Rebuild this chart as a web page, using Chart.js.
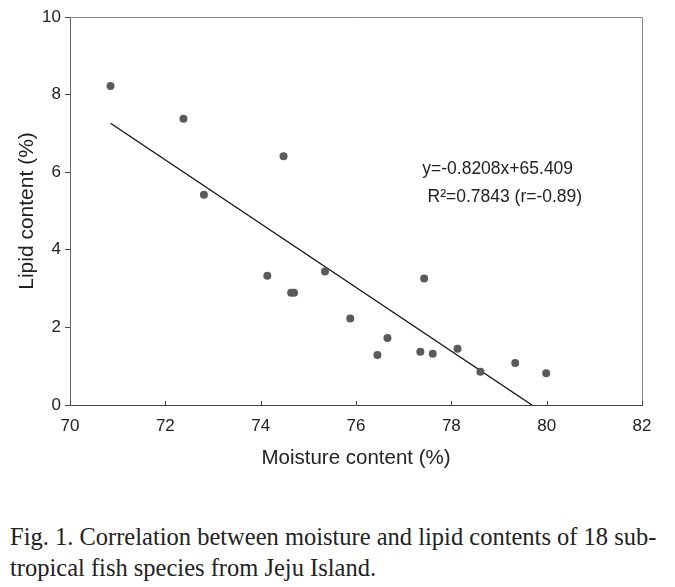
<!DOCTYPE html>
<html>
<head>
<meta charset="utf-8">
<script src="https://cdn.jsdelivr.net/npm/chart.js@4/dist/chart.umd.min.js"></script>
<style>
  body { margin: 0; background: #fff; }
  #wrap { position: relative; width: 675px; height: 587px; }
  #caption {
    position: absolute; left: 10px; top: 521px; width: 665px;
    font-family: "Liberation Serif", "Times New Roman", serif;
    font-size: 24.5px; line-height: 31px; color: #222; white-space: nowrap;
  }
</style>
</head>
<body>
<div id="wrap">
  <canvas id="fishChart" width="675" height="487"></canvas>
  <div id="caption">Fig. 1. Correlation between moisture and lipid contents of 18 sub-<br>tropical fish species from Jeju Island.</div>
</div>
<script>
// moisture (%) and lipid (%), one entry per species
const moisture = [70.85, 72.38, 72.81, 74.48, 74.14, 74.64, 74.70, 75.35, 77.43,
                  75.88, 76.66, 76.45, 77.35, 77.61, 78.13, 78.61, 79.34, 79.99]
const lipid = [8.22, 7.38, 5.42, 6.41, 3.33, 2.89, 2.89, 3.44, 3.26,
               2.23, 1.73, 1.29, 1.37, 1.32, 1.45, 0.86, 1.08, 0.82]

// ends of the regression line as drawn
const trendX = [70.85, 79.69]
const trendY = [7.26, 0]

const xTicks = [70, 72, 74, 76, 78, 80, 82]
const yTicks = [0, 2, 4, 6, 8, 10]

const equationLines = ['y=-0.8208x+65.409', 'R\u00b2=0.7843 (r=-0.89)']

const FONT = '"Liberation Sans", Arial, sans-serif'

// inward x ticks, top/right frame and the regression text
const frame = {
  id: 'frame',
  afterDraw(chart) {
    const { ctx, chartArea, scales } = chart
    ctx.save()
    ctx.strokeStyle = '#8a8a8a'
    ctx.lineWidth = 1
    ctx.beginPath()
    ctx.moveTo(chartArea.left, chartArea.top + 0.5)
    ctx.lineTo(chartArea.right + 0.5, chartArea.top + 0.5)
    ctx.lineTo(chartArea.right + 0.5, chartArea.bottom)
    ctx.stroke()

    ctx.strokeStyle = '#444'
    ctx.beginPath()
    xTicks.forEach(v => {
      const px = Math.round(scales.x.getPixelForValue(v)) + 0.5
      ctx.moveTo(px, chartArea.bottom)
      ctx.lineTo(px, chartArea.bottom - 4)
    })
    ctx.stroke()

    ctx.fillStyle = '#222'
    ctx.font = '17.5px ' + FONT
    ctx.textBaseline = 'middle'
    ctx.textAlign = 'left'
    ctx.fillText(equationLines[0], scales.x.getPixelForValue(77.39), scales.y.getPixelForValue(6.07))
    ctx.fillText(equationLines[1], scales.x.getPixelForValue(77.5), scales.y.getPixelForValue(5.36))
    ctx.restore()
  }
}

const ctx = document.getElementById('fishChart')
new Chart(ctx, {
  type: 'scatter',
  data: {
    datasets: [
      {
        label: 'species',
        data: moisture.map((m, i) => ({ x: m, y: lipid[i] })),
        pointRadius: 4,
        pointBackgroundColor: '#5a5a5a',
        pointBorderWidth: 0,
      },
      {
        label: 'fit',
        data: trendX.map((t, i) => ({ x: t, y: trendY[i] })),
        showLine: true,
        borderColor: '#111',
        borderWidth: 1.3,
        pointRadius: 0,
      },
    ],
  },
  options: {
    responsive: false,
    animation: false,
    devicePixelRatio: 1,
    layout: { padding: { top: 17, right: 33, left: 0, bottom: 0 } },
    plugins: { legend: { display: false }, tooltip: { enabled: false } },
    scales: {
      x: {
        type: 'linear',
        min: 70,
        max: 82,
        afterBuildTicks: s => { s.ticks = xTicks.map(v => ({ value: v })) },
        afterFit: s => { s.height = 82 },
        grid: { display: false, drawTicks: false },
        border: { display: true, color: '#444', width: 1 },
        ticks: { color: '#222', font: { family: FONT, size: 17 }, padding: 11 },
        title: {
          display: true,
          text: 'Moisture content (%)',
          color: '#222',
          font: { family: FONT, size: 20.5 },
          padding: { bottom: 16 },
        },
      },
      y: {
        type: 'linear',
        min: 0,
        max: 10,
        afterBuildTicks: s => { s.ticks = yTicks.map(v => ({ value: v })) },
        afterFit: s => { s.width = 70 },
        grid: { drawOnChartArea: false, drawTicks: true, tickLength: 5, color: '#444' },
        border: { display: true, color: '#666', width: 1 },
        ticks: { color: '#222', font: { family: FONT, size: 17 }, padding: 4 },
        title: {
          display: true,
          text: 'Lipid content (%)',
          color: '#222',
          font: { family: FONT, size: 21 },
          padding: { top: 15 },
        },
      },
    },
  },
  plugins: [frame],
})
</script>
</body>
</html>
